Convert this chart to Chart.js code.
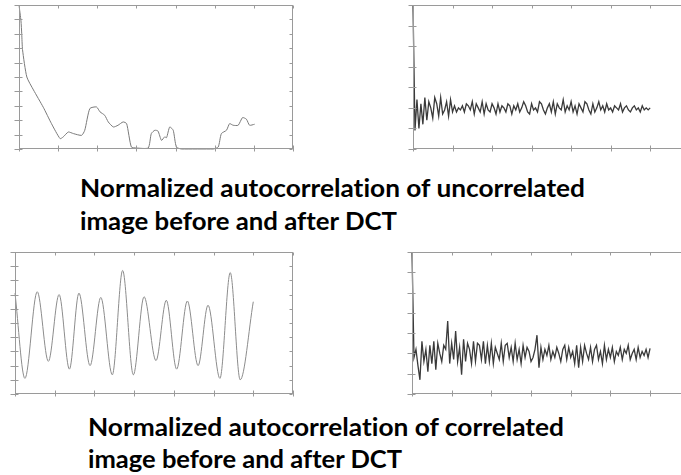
<!DOCTYPE html>
<html lang="en">
<head>
  <meta charset="UTF-8">
  <title>Normalized autocorrelation before and after DCT</title>
  <script src="https://cdn.jsdelivr.net/npm/chart.js"></script>
  <style>
    html, body { margin: 0; padding: 0; background: #fff; }
    body { width: 681px; height: 475px; position: relative; overflow: hidden; }
    canvas { position: absolute; }
    .caption {
      position: absolute;
      font: 700 24px Lato, "Open Sans", sans-serif;
      font-variant-ligatures: none;
      line-height: 24px;
      color: #000;
      white-space: nowrap;
      transform-origin: 0 0;
    }
  </style>
</head>
<body>
  <canvas id="plotA" width="290" height="155" style="left:9px; top:0px;"></canvas>
  <canvas id="plotB" width="278" height="155" style="left:403px; top:0px;"></canvas>
  <canvas id="plotC" width="294" height="153" style="left:5px; top:247px;"></canvas>
  <canvas id="plotD" width="279" height="153" style="left:402px; top:247px;"></canvas>

  <div class="caption" data-w="505" style="left:80px; top:176px;">Normalized autocorrelation of uncorrelated</div>
  <div class="caption" data-w="317" style="left:80px; top:209px;">image before and after DCT</div>
  <div class="caption" data-w="476" style="left:88px; top:415px;">Normalized autocorrelation of correlated</div>
  <div class="caption" data-w="314" style="left:88px; top:447px;">image before and after DCT</div>

  <script>
    // tick values of the small matlab-style boxes
    const lagTicks = [0, 1, 2, 3, 4, 5, 6, 7];
    const tenTicks = [0, 1, 2, 3, 4, 5, 6, 7, 8, 9, 10];
    const sevenTicks = [0, 1, 2, 3, 4, 5, 6, 7];

    // uncorrelated image, before DCT
    const uncorrLag = [0, 0.05, 0.07, 0.09, 0.2, 0.37, 0.62, 0.83, 1.05, 1.13, 1.26, 1.39, 1.6, 1.68,
      1.81, 1.98, 2.07, 2.19, 2.28, 2.41, 2.53, 2.66, 2.75, 2.87, 3.0, 3.3, 3.38, 3.47, 3.55, 3.64,
      3.72, 3.77, 3.85, 3.94, 4.02, 4.15, 4.96, 5.09, 5.17, 5.3, 5.38, 5.47, 5.6, 5.71, 5.81, 5.89, 6.02];
    const uncorrBefore = [10, 8.9, 8.0, 6.9, 5.0, 4.1, 2.9, 1.76, 0.72, 0.84, 1.18, 1.07, 0.95, 1.3,
      2.81, 2.92, 2.58, 2.34, 1.88, 1.53, 1.65, 1.88, 1.76, 0.14, 0.07, 0.07, 1.07, 1.3, 1.25, 0.6,
      0.84, 0.79, 1.53, 1.3, 0.14, 0, 0, 0.14, 1.07, 1.3, 1.76, 1.65, 1.65, 2.18, 2.07, 1.65, 1.72];

    // uncorrelated image, after DCT (step 0.05 from lag 0 to 6)
    const uncorrAfter = [7.0,
      0.9, 2.4, 1.0, 2.2, 1.2, 2.5, 1.4, 2.3, 2.0, 1.5,
      2.5, 2.2, 1.6, 2.5, 1.7, 1.9, 2.3, 1.6, 2.4, 1.8,
      2.1, 1.8, 2.0, 1.9, 2.1, 1.8, 2.2, 2.1, 1.9, 2.3,
      1.7, 2.2, 2.0, 1.8, 2.3, 1.7, 2.2, 1.9, 1.8, 2.2,
      2.0, 1.7, 2.2, 1.8, 2.1, 2.0, 1.8, 2.2, 2.1, 1.7,
      2.1, 1.9, 2.2, 1.8, 2.0, 2.3, 2.1, 1.8, 1.7, 2.2,
      1.9, 2.0, 1.8, 2.3, 2.2, 1.9, 1.7, 2.0, 2.2, 1.8,
      2.3, 1.7, 2.2, 2.0, 1.9, 2.4, 1.8, 2.1, 1.9, 2.3,
      1.8, 2.1, 1.7, 2.2, 2.0, 1.8, 2.3, 2.2, 1.9, 1.7,
      2.2, 1.8, 2.0, 2.3, 1.9, 2.1, 1.8, 2.2, 1.9, 2.0,
      1.8, 2.1, 2.0, 1.9, 2.2, 1.8, 2.0, 2.1, 1.9, 1.8,
      2.0, 2.1, 1.9, 2.0, 1.8, 2.1, 1.9, 2.0, 1.9, 2.0];

    // correlated image, before DCT: peaks and troughs of the oscillation
    const corrLag = [0, 0.25, 0.56, 0.84, 1.11, 1.37, 1.61, 1.89, 2.16, 2.45, 2.71, 2.98,
      3.25, 3.55, 3.81, 4.07, 4.34, 4.61, 4.86, 5.16, 5.42, 5.67, 6.0];
    const corrBefore = [7.1, 1.1, 7.2, 2.3, 7.0, 1.75, 7.1, 2.0, 6.8, 1.35, 8.7, 1.35,
      6.85, 2.35, 6.6, 1.75, 6.55, 2.0, 6.25, 1.1, 8.55, 1.0, 6.5];

    // correlated image, after DCT (step 0.05 from lag 0 to 6)
    const corrAfter = [7.0,
      1.8, 2.2, 1.4, 0.7, 2.6, 1.6, 2.2, 1.1, 2.4, 1.5,
      2.6, 1.2, 2.5, 2.0, 1.6, 2.4, 2.2, 3.6, 1.5, 2.5,
      1.7, 3.1, 1.6, 2.3, 0.95, 2.7, 1.6, 2.5, 2.2, 1.5,
      2.6, 1.6, 2.5, 2.4, 1.7, 2.6, 1.5, 2.4, 1.6, 2.5,
      1.5, 2.3, 2.0, 1.7, 2.5, 1.6, 2.4, 2.5, 1.8, 2.3,
      1.6, 2.5, 1.7, 2.2, 1.5, 2.4, 1.8, 2.3, 2.1, 1.6,
      1.8, 2.2, 2.9, 1.3, 2.3, 1.7, 2.2, 1.9, 2.4, 1.7,
      2.1, 1.8, 2.3, 2.0, 1.6, 2.2, 2.4, 1.7, 2.3, 1.8,
      2.1, 1.5, 2.4, 1.3, 2.3, 1.6, 2.4, 2.0, 1.7, 2.3,
      1.6, 2.2, 2.4, 1.7, 2.1, 1.5, 2.4, 1.7, 2.2, 1.8,
      2.3, 1.6, 2.1, 1.9, 2.3, 1.7, 2.2, 2.0, 2.4, 1.7,
      2.0, 2.2, 1.7, 2.3, 1.8, 2.1, 1.9, 2.2, 1.8, 2.25];

    function pairs(lags, values) {
      return values.map((v, i) => ({ x: lags[i], y: v }));
    }

    function evenPairs(values, lastLag) {
      return values.map((v, i) => ({ x: i * lastLag / (values.length - 1), y: v }));
    }

    // box + inward/outward ticks like the old matlab figures
    const boxTicks = {
      id: 'boxTicks',
      afterDatasetsDraw(chart, args, opts) {
        const { ctx, chartArea: a, scales: { x, y } } = chart;
        const L = Math.round(a.left) + 0.5, R = Math.round(a.right) - 0.5;
        const T = Math.round(a.top) + 0.5, B = Math.round(a.bottom) - 0.5;
        ctx.save();
        ctx.strokeStyle = opts.color;
        ctx.lineWidth = 1;
        ctx.beginPath();
        ctx.moveTo(R + 0.5, T); ctx.lineTo(L, T); ctx.lineTo(L, B); ctx.lineTo(R + 0.5, B);
        if (opts.right) { ctx.moveTo(R, T); ctx.lineTo(R, B); }
        opts.xTicks.forEach(v => {
          const px = Math.round(x.getPixelForValue(v)) + 0.5;
          if (px > a.right + 1) return;
          ctx.moveTo(px, B - 3); ctx.lineTo(px, B + 3);
          ctx.moveTo(px, T); ctx.lineTo(px, T + 3);
        });
        opts.yTicks.forEach(v => {
          const py = Math.round(y.getPixelForValue(v)) + 0.5;
          ctx.moveTo(L - 5, py); ctx.lineTo(L + 3, py);
          if (opts.right) { ctx.moveTo(R - 3, py); ctx.lineTo(R, py); }
        });
        ctx.stroke();
        ctx.restore();
      }
    };

    function makePlot(id, data, cfg) {
      new Chart(document.getElementById(id), {
        type: 'line',
        data: {
          datasets: [{
            data: data,
            borderColor: cfg.color,
            borderWidth: cfg.width,
            pointRadius: 0,
            tension: cfg.tension || 0,
            cubicInterpolationMode: cfg.smooth ? 'monotone' : 'default',
            clip: 3,
            fill: false
          }]
        },
        options: {
          responsive: false,
          animation: false,
          layout: { padding: cfg.padding },
          scales: {
            x: { type: 'linear', min: 0, max: cfg.xMax, display: false },
            y: { type: 'linear', min: 0, max: cfg.yMax, display: false }
          },
          plugins: {
            legend: { display: false },
            tooltip: { enabled: false },
            boxTicks: { color: '#9a9a9a', xTicks: lagTicks, yTicks: cfg.yTicks, right: cfg.right }
          }
        },
        plugins: [boxTicks]
      });
    }

    function fitCaptions() {
      document.querySelectorAll('.caption').forEach(el => {
        const w = el.getBoundingClientRect().width;
        el.style.transform = 'scaleX(' + (Number(el.dataset.w) / w) + ')';
      });
    }

    document.addEventListener('DOMContentLoaded', () => {
      makePlot('plotA', pairs(uncorrLag, uncorrBefore), {
        color: '#7a7a7a', width: 1, tension: 0.2, xMax: 7, yMax: 10, yTicks: tenTicks, right: true,
        padding: { left: 10, top: 5, right: 6, bottom: 6 }
      });
      makePlot('plotB', evenPairs(uncorrAfter, 6), {
        color: '#3a3a3a', width: 1.3, xMax: 6.78, yMax: 7, yTicks: sevenTicks, right: false,
        padding: { left: 10, top: 5, right: 0, bottom: 6 }
      });
      makePlot('plotC', pairs(corrLag, corrBefore), {
        color: '#8c8c8c', width: 1, smooth: true, xMax: 7, yMax: 10, yTicks: tenTicks, right: true,
        padding: { left: 10, top: 5, right: 6, bottom: 6 }
      });
      makePlot('plotD', evenPairs(corrAfter, 6), {
        color: '#3a3a3a', width: 1.3, xMax: 6.78, yMax: 7, yTicks: sevenTicks, right: false,
        padding: { left: 10, top: 5, right: 0, bottom: 6 }
      });
      fitCaptions();
    });
  </script>
</body>
</html>
